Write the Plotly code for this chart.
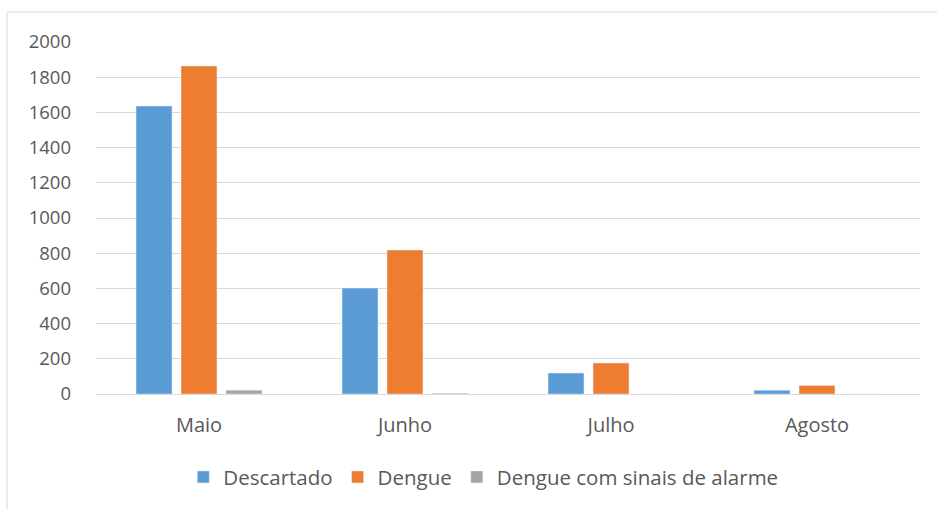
import plotly.graph_objects as go

months = ["Maio", "Junho", "Julho", "Agosto"]
descartado = [1636, 602, 119, 22]
dengue = [1864, 818, 176, 48]
dengue_alarme = [22, 4, 0, 0]
y_ticks = [0, 200, 400, 600, 800, 1000, 1200, 1400, 1600, 1800, 2000]

FONT = "Open Sans"
TXT = "#595959"

fig = go.Figure()
fig.add_trace(go.Bar(x=months, y=descartado, name="Descartado", marker_color="#5B9BD5"))
fig.add_trace(go.Bar(x=months, y=dengue, name="Dengue", marker_color="#ED7D31"))
fig.add_trace(go.Bar(x=months, y=dengue_alarme, name="Dengue com sinais de alarme", marker_color="#A5A5A5"))

fig.update_layout(
    width=937, height=509,
    margin=dict(l=96, r=17, t=42, b=115),
    paper_bgcolor="white", plot_bgcolor="white",
    barmode="group", bargap=0.345, bargroupgap=0.2,
    font=dict(family=FONT, size=17, color=TXT),
    showlegend=True,
    legend=dict(orientation="h", x=0.47, xanchor="center", y=-0.236, yanchor="middle",
                font=dict(family=FONT, size=20.5, color=TXT), itemwidth=30, traceorder="normal"),
    shapes=[dict(type="rect", xref="paper", yref="paper", x0=-0.108, x1=1.03, y0=-0.4, y1=1.0852,
                 line=dict(color="#d9d9d9", width=1), fillcolor="rgba(0,0,0,0)", layer="below")],
)
fig.update_yaxes(range=[0, 2000], tickvals=y_ticks, showgrid=True, gridcolor="#d9d9d9", gridwidth=1.2,
                 zeroline=False, showline=False, ticklabelstandoff=24, tickfont=dict(size=18.5, color=TXT))
fig.update_xaxes(showline=True, linecolor="#d9d9d9", linewidth=1.2, showgrid=False, ticks="",
                 ticklabelstandoff=13, tickfont=dict(size=20, color=TXT))

fig.write_html("out.html", config={"displayModeBar": False},
               post_script="document.body.style.margin='0';document.body.style.overflow='hidden';")
